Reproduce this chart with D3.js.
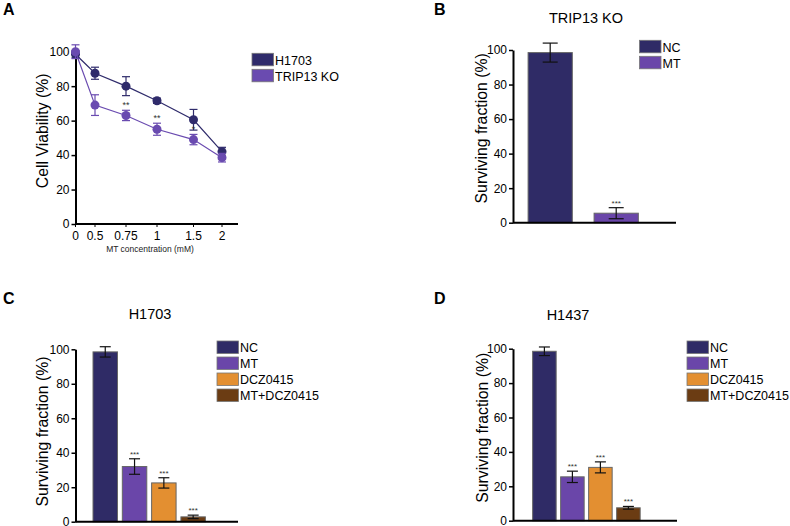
<!DOCTYPE html>
<html>
<head>
<meta charset="utf-8">
<script src="https://cdn.jsdelivr.net/npm/d3@7"></script>
<style>
  body { margin: 0; background: #fff; }
  svg { display: block; font-family: 'Liberation Sans', Arial, sans-serif; }
</style>
</head>
<body>
<div id="fig"></div>
<script>
// Panel A: viability vs MT concentration
var concLevels = [0, 0.5, 0.75, 1, 1.5, 2];
var concTicks = ['0', '0.5', '0.75', '1', '1.5', '2'];
var h1703Viab = [98.5, 87.5, 80, 71.5, 60.5, 42];
var h1703Err = [2, 3.5, 5.5, 1.5, 6, 2.5];
var koViab = [100, 69, 63, 55, 49, 38.5];
var koErr = [4, 6, 3, 3.5, 3, 2.5];
var koSig = ['', '', '**', '**', '*', ''];
var lineSeries = ['H1703', 'TRIP13 KO'];
var yTicks = [0, 20, 40, 60, 80, 100];

// Panel B: TRIP13 KO
var groupsB = ['NC', 'MT'];
var valuesB = [98.5, 5.5];
var errB = [5.5, 3.2];
var sigB = ['', '***'];

// Panel C: H1703
var groupsC = ['NC', 'MT', 'DCZ0415', 'MT+DCZ0415'];
var valuesC = [98.5, 32, 22.5, 2.8];
var errC = [3, 4.5, 3, 1];
var sigC = ['', '***', '***', '***'];

// Panel D: H1437
var groupsD = ['NC', 'MT', 'DCZ0415', 'MT+DCZ0415'];
var valuesD = [98.5, 25.5, 31, 7.5];
var errD = [2.5, 3.3, 3.2, 0.8];
var sigD = ['', '***', '***', '***'];

var colors = { 'NC': '#2f2b66', 'MT': '#6a46a9', 'DCZ0415': '#e38f31', 'MT+DCZ0415': '#6b3c13' };
var lineColors = { 'H1703': '#2f2b6b', 'TRIP13 KO': '#6a4bb0' };

var svg = d3.select('#fig').append('svg')
  .attr('width', 790).attr('height', 526);

function panelLetter(x, y, t) {
  svg.append('text').attr('x', x).attr('y', y)
    .attr('font-size', 16).attr('font-weight', 'bold').text(t);
}

function yAxis(g, y, axisX, labelX, labelDy, label) {
  var ax = g.append('g')
    .attr('transform', 'translate(' + axisX + ',0)')
    .call(d3.axisLeft(y).tickValues(yTicks).tickSize(4).tickPadding(2).tickSizeOuter(0));
  ax.select('.domain').attr('stroke', '#000').attr('stroke-width', 2);
  ax.selectAll('.tick line').attr('stroke', '#000').attr('stroke-width', 1.5);
  ax.selectAll('.tick text').attr('font-size', 12).attr('fill', '#000')
    .attr('font-family', "'Liberation Sans', Arial, sans-serif");
  var mid = (y.range()[0] + y.range()[1]) / 2 + labelDy;
  g.append('text')
    .attr('transform', 'translate(' + labelX + ',' + mid + ') rotate(-90)')
    .attr('text-anchor', 'middle').attr('dominant-baseline', 'central')
    .attr('font-size', 15.8).text(label);
}

function legend(g, x, y, items, cmap) {
  items.forEach(function(name, i) {
    g.append('rect').attr('x', x).attr('y', y + i * 16)
      .attr('width', 21.5).attr('height', 12.5)
      .attr('fill', cmap[name]).attr('stroke', '#777').attr('stroke-width', 0.8);
    g.append('text').attr('x', x + 23).attr('y', y + i * 16 + 11.2)
      .attr('font-size', 12.5).text(name);
  });
}

// ---------- Panel A ----------
(function() {
  var g = svg.append('g');
  var y = d3.scaleLinear().domain([0, 100]).range([224, 51.7]);
  // uneven category spacing as drawn in the figure
  var x = d3.scaleLinear().domain(concLevels)
    .range([75.5, 95, 126, 157, 193.5, 222]);

  g.append('line').attr('x1', 75.5).attr('x2', 238)
    .attr('y1', y(0)).attr('y2', y(0))
    .attr('stroke', '#000').attr('stroke-width', 2);
  concLevels.forEach(function(c, i) {
    g.append('line').attr('x1', x(c)).attr('x2', x(c))
      .attr('y1', y(0)).attr('y2', y(0) + 3).attr('stroke', '#000');
    g.append('text').attr('x', x(c)).attr('y', y(0) + 16)
      .attr('text-anchor', 'middle').attr('font-size', 12).text(concTicks[i]);
  });
  g.append('text').attr('x', 150).attr('y', 252)
    .attr('text-anchor', 'middle').attr('font-size', 8.5).attr('fill', '#222')
    .text('MT concentration (mM)');

  yAxis(g, y, 75.5, 42, -7, 'Cell Viability (%)');

  var series = [
    { name: 'H1703', vals: h1703Viab, err: h1703Err },
    { name: 'TRIP13 KO', vals: koViab, err: koErr }
  ];
  series.forEach(function(s) {
    var pts = concLevels.map(function(c, i) { return { c: c, v: s.vals[i], e: s.err[i] }; });
    var col = lineColors[s.name];
    g.append('path').datum(pts)
      .attr('d', d3.line().x(function(d) { return x(d.c); }).y(function(d) { return y(d.v); }))
      .attr('fill', 'none').attr('stroke', col).attr('stroke-width', 1.2);
    pts.forEach(function(d) {
      var cx = x(d.c);
      g.append('line').attr('x1', cx).attr('x2', cx)
        .attr('y1', y(d.v - d.e)).attr('y2', y(d.v + d.e))
        .attr('stroke', col).attr('stroke-width', 1.2);
      [d.v - d.e, d.v + d.e].forEach(function(v) {
        g.append('line').attr('x1', cx - 4).attr('x2', cx + 4)
          .attr('y1', y(v)).attr('y2', y(v))
          .attr('stroke', col).attr('stroke-width', 1.2);
      });
      g.append('circle').attr('cx', cx).attr('cy', y(d.v)).attr('r', 4.5).attr('fill', col);
    });
  });
  koSig.forEach(function(s, i) {
    if (!s) return;
    g.append('text').attr('x', x(concLevels[i])).attr('y', y(koViab[i] + koErr[i]) - 2)
      .attr('text-anchor', 'middle').attr('font-size', 9).attr('fill', '#333').text(s);
  });

  legend(g, 252, 53.3, lineSeries, lineColors);
})();

// ---------- Bar panels ----------
function barPanel(opts) {
  var g = svg.append('g');
  var y = d3.scaleLinear().domain([0, 100]).range([opts.y0, opts.y100]);
  var x = d3.scaleBand().domain(opts.groups)
    .range([opts.bandStart, opts.bandStart + opts.groups.length * opts.step])
    .paddingInner(opts.pad).paddingOuter(opts.pad / 2);

  g.append('text').attr('x', opts.titleX).attr('y', opts.titleY)
    .attr('text-anchor', 'middle').attr('font-size', 14.5).text(opts.title);

  opts.groups.forEach(function(name, i) {
    var v = opts.values[i], e = opts.err[i];
    var bx = x(name), bw = x.bandwidth(), cx = bx + bw / 2;
    g.append('rect').attr('x', bx).attr('y', y(v))
      .attr('width', bw).attr('height', y(0) - y(v))
      .attr('fill', colors[name]).attr('stroke', '#666').attr('stroke-width', 1);
    g.append('line').attr('x1', cx).attr('x2', cx)
      .attr('y1', y(v - e)).attr('y2', y(v + e))
      .attr('stroke', '#111').attr('stroke-width', 1.2);
    [v - e, v + e].forEach(function(t) {
      g.append('line').attr('x1', cx - opts.cap).attr('x2', cx + opts.cap)
        .attr('y1', y(t)).attr('y2', y(t))
        .attr('stroke', '#111').attr('stroke-width', 1.2);
    });
    if (opts.sig[i]) {
      g.append('text').attr('x', cx).attr('y', y(v + e) - 2)
        .attr('text-anchor', 'middle').attr('font-size', 8).attr('fill', '#333')
        .text(opts.sig[i]);
    }
  });

  g.append('line').attr('x1', opts.axisX).attr('x2', opts.axisEnd)
    .attr('y1', y(0)).attr('y2', y(0))
    .attr('stroke', '#000').attr('stroke-width', 2);
  yAxis(g, y, opts.axisX, opts.labelX, opts.labelDy, 'Surviving fraction (%)');
  legend(g, opts.legX, opts.legY, opts.groups, colors);
}

panelLetter(3, 15, 'A');
panelLetter(434, 15, 'B');
panelLetter(3, 304, 'C');
panelLetter(434, 304, 'D');

barPanel({
  groups: groupsB, values: valuesB, err: errB, sig: sigB,
  title: 'TRIP13 KO', titleX: 586, titleY: 23,
  y0: 222.7, y100: 50, axisX: 513, axisEnd: 676, labelX: 481, labelDy: -8,
  bandStart: 517.2, step: 66, pad: 0.33, cap: 7.5,
  legX: 639.5, legY: 40.3
});

barPanel({
  groups: groupsC, values: valuesC, err: errC, sig: sigC,
  title: 'H1703', titleX: 150, titleY: 319,
  y0: 521.7, y100: 349.3, axisX: 75.5, axisEnd: 238, labelX: 42, labelDy: -4,
  bandStart: 90.6, step: 29.3, pad: 0.165, cap: 5.5,
  legX: 217, legY: 341
});

barPanel({
  groups: groupsD, values: valuesD, err: errD, sig: sigD,
  title: 'H1437', titleX: 568, titleY: 320,
  y0: 520.7, y100: 348.7, axisX: 513, axisEnd: 677, labelX: 482, labelDy: -7,
  bandStart: 530.4, step: 28, pad: 0.16, cap: 5.5,
  legX: 687, legY: 341
});
</script>
</body>
</html>
